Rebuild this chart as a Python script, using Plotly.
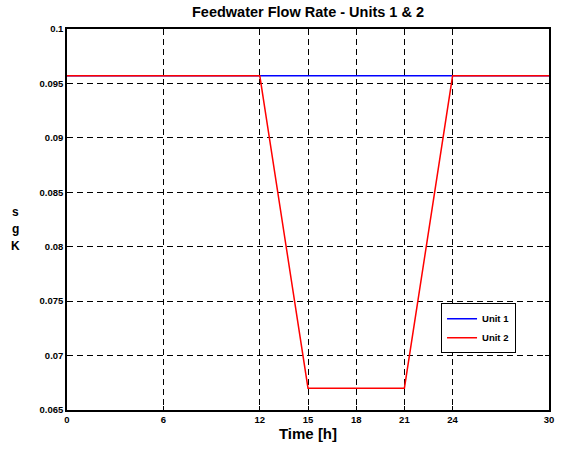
import plotly.graph_objects as go

time_h = [0, 12, 15, 21, 24, 30]
unit1 = [0.0957, 0.0957, 0.0957, 0.0957, 0.0957, 0.0957]
unit2 = [0.0957, 0.0957, 0.067, 0.067, 0.0957, 0.0957]
x_ticks = [0, 6, 12, 15, 18, 21, 24, 30]
y_ticks = [0.065, 0.07, 0.075, 0.08, 0.085, 0.09, 0.095, 0.1]
y_tick_text = ["0.065", "0.07", "0.075", "0.08", "0.085", "0.09", "0.095", "0.1"]
y_label_chars = ["s", "g", "K"]

fig = go.Figure()
fig.add_trace(go.Scatter(x=time_h, y=unit1, mode="lines", name="<b>Unit 1</b>",
                         line=dict(color="#0000ff", width=1.5)))
fig.add_trace(go.Scatter(x=time_h, y=unit2, mode="lines", name="<b>Unit 2</b>",
                         line=dict(color="#ff0000", width=1.5)))

font_family = "Liberation Sans, Arial, sans-serif"

fig.update_layout(
    width=569, height=451,
    margin=dict(l=67, r=20, t=29, b=37),
    paper_bgcolor="white", plot_bgcolor="white",
    font=dict(family=font_family, color="black", size=9),
    title=dict(text="<b>Feedwater Flow Rate - Units 1 & 2</b>",
               x=(67 + 549) / 2 / 569, xanchor="center",
               y=1 - 12 / 451, yanchor="middle",
               font=dict(size=14.5, family=font_family, color="black")),
    showlegend=True,
    legend=dict(x=0.776, y=0.2805, xanchor="left", yanchor="top",
                bgcolor="white", bordercolor="black", borderwidth=1,
                font=dict(size=9.5, family=font_family, color="black"),
                tracegroupgap=0, itemwidth=30),
    xaxis=dict(range=[0, 30], tickmode="array", tickvals=x_ticks,
               ticktext=[f"<b>{v}</b>" for v in x_ticks],
               showgrid=True, gridcolor="black", gridwidth=1, griddash="6px,4px",
               zeroline=False, showline=True, linecolor="black", linewidth=1.5,
               mirror="ticks", ticks="inside", ticklen=4, tickcolor="black",
               title=dict(text="<b>Time [h]</b>", font=dict(size=15), standoff=3),
               tickfont=dict(size=9.5)),
    yaxis=dict(range=[0.065, 0.1], tickmode="array", tickvals=y_ticks,
               ticktext=[f"<b>{t}</b>" for t in y_tick_text],
               showgrid=True, gridcolor="black", gridwidth=1, griddash="6px,4px",
               zeroline=False, showline=True, linecolor="black", linewidth=1.5,
               mirror="ticks", ticks="inside", ticklen=4, tickcolor="black",
               tickfont=dict(size=9.5)),
)

for ch, py in zip(y_label_chars, [214, 231, 248]):
    fig.add_annotation(text=f"<b>{ch}</b>", xref="paper", yref="paper",
                       x=(15 - 67) / 482, y=(414 - py) / 385,
                       xanchor="center", yanchor="middle",
                       showarrow=False, font=dict(size=12, family=font_family, color="black"))

fig.write_html("out.html")
